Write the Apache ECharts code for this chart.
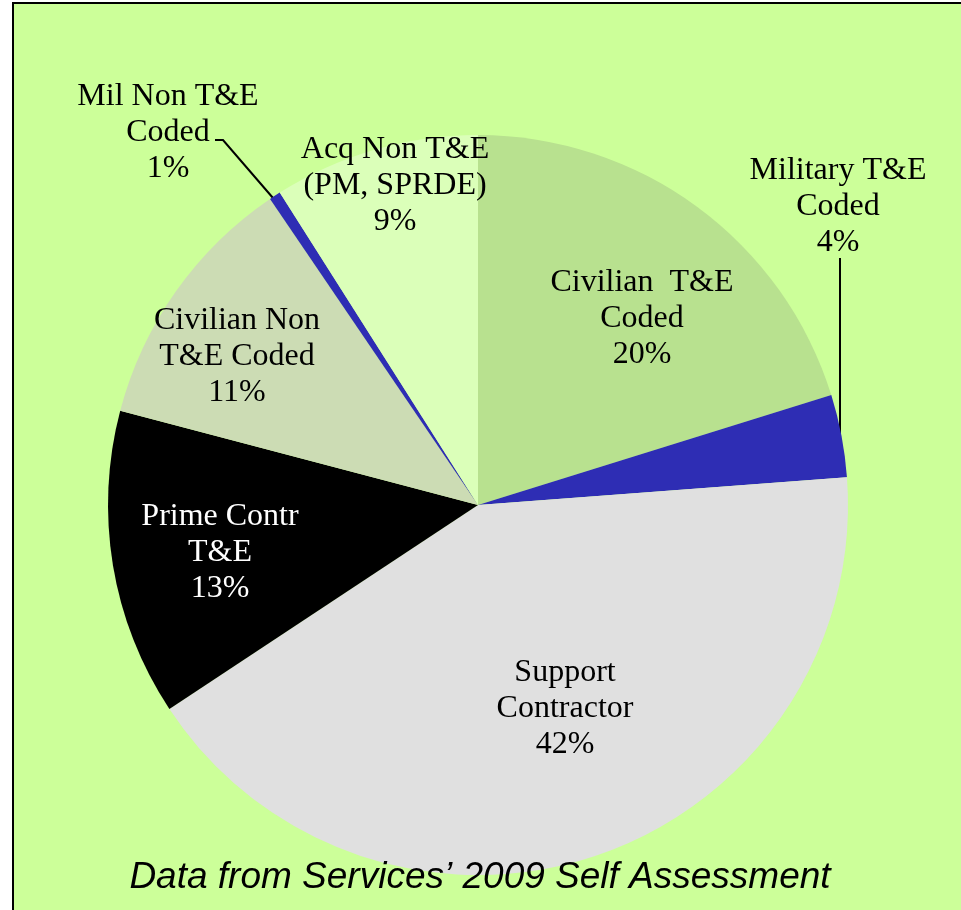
<!DOCTYPE html>
<html>
<head>
<meta charset="utf-8">
<script src="https://cdn.jsdelivr.net/npm/echarts@6/dist/echarts.min.js"></script>
<style>
  html, body { margin: 0; padding: 0; background: #fff; }
  #chart { width: 961px; height: 910px; }
</style>
</head>
<body>
<div id="chart"></div>
<script>
// slices, clockwise from 12 o'clock
var categories = [
  'Civilian  T&E\nCoded',
  'Military T&E\nCoded',
  'Support\nContractor',
  'Prime Contr\nT&E',
  'Civilian Non\nT&E Coded',
  'Mil Non T&E\nCoded',
  'Acq Non T&E\n(PM, SPRDE)'
]
// shares (labels show them rounded)
var shares = [20.2, 3.6, 41.9, 13.4, 11.4, 0.5, 9.0]
var colors = ['#b8e18f', '#2e2db4', '#e0e0e0', '#000000', '#ccdcb4', '#2e2db4', '#dbffb9']
var labelColors = ['#000', '#000', '#000', '#fff', '#000', '#000', '#000']

// where each label block sits (centre of text)
var labelPos = [[642, 319], [838, 207], [565, 709], [220, 553], [237, 357], [168, 133], [395, 186]]
var leaderLines = {
  1: [[840, 258], [840, 436], [840, 436]],
  5: [[215, 140], [223, 140], [273, 198]]
}

var chart = echarts.init(document.getElementById('chart'))

var pieData = categories.map(function (name, i) {
  return {
    name: name,
    value: shares[i],
    itemStyle: { color: colors[i] },
    label: { color: labelColors[i] },
    labelLine: { show: !!leaderLines[i] }
  }
})

chart.setOption({
  backgroundColor: '#fff',
  animation: false,
  graphic: [
    {
      type: 'rect',
      z: -10,
      shape: { x: 13, y: 3, width: 960, height: 920 },
      style: { fill: '#ccff99', stroke: '#000', lineWidth: 2 }
    },
    {
      type: 'text',
      z: 10,
      x: 480,
      y: 878,
      style: {
        text: 'Data from Services\u2019 2009 Self Assessment',
        fontFamily: 'Liberation Sans',
        fontStyle: 'italic',
        fontSize: 37,
        fill: '#000',
        align: 'center',
        verticalAlign: 'middle'
      }
    }
  ],
  series: [
    {
      type: 'pie',
      center: [478, 505],
      radius: 370,
      startAngle: 90,
      clockwise: true,
      avoidLabelOverlap: false,
      data: pieData,
      label: {
        show: true,
        position: 'outside',
        formatter: function (p) {
          return p.name + '\n' + Math.round(p.value) + '%'
        },
        fontFamily: 'Liberation Serif',
        fontSize: 32,
        lineHeight: 36,
        align: 'center'
      },
      labelLine: {
        lineStyle: { color: '#000', width: 2 }
      },
      labelLayout: function (p) {
        var i = p.dataIndex
        var out = {
          x: labelPos[i][0],
          y: labelPos[i][1],
          align: 'center',
          verticalAlign: 'middle'
        }
        if (leaderLines[i]) out.labelLinePoints = leaderLines[i]
        return out
      },
      emphasis: { disabled: true }
    }
  ]
})
</script>
</body>
</html>
